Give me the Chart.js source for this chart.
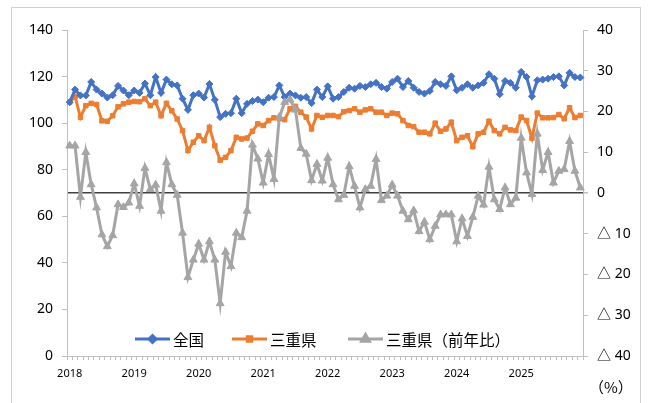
<!DOCTYPE html>
<html lang="ja">
<head>
<meta charset="utf-8">
<script src="https://cdn.jsdelivr.net/npm/chart.js@4.4.1/dist/chart.umd.min.js"></script>
<style>
  html, body { margin: 0; padding: 0; background: #fff; }
  #wrap { width: 648px; height: 403px; }
</style>
</head>
<body>
<div id="wrap"><canvas id="chart" width="648" height="403"></canvas></div>
<script>
// categories: one per month, 2018/1 .. 2025/12
const years = [2018, 2019, 2020, 2021, 2022, 2023, 2024, 2025];
const categories = [];
years.forEach(y => { for (let m = 1; m <= 12; m++) categories.push(y + '/' + m); });

// 全国 (left axis)
const zenkoku = [
  109.0, 114.4, 111.9, 111.9, 117.7, 114.4, 112.7, 111.0, 112.0, 116.0, 114.0, 112.0,
  114.0, 113.0, 117.0, 112.0, 119.8, 113.0, 118.7, 116.7, 116.2, 110.5, 105.7, 112.0,
  112.7, 111.0, 116.8, 110.0, 102.6, 104.0, 104.3, 110.5, 104.3, 108.3, 109.5, 110.1,
  109.0, 110.9, 111.2, 116.2, 111.2, 112.7, 111.9, 110.9, 111.2, 108.6, 114.4, 111.2,
  115.8, 110.5, 111.2, 113.4, 115.2, 114.8, 116.0, 115.5, 116.7, 117.3, 115.5, 114.8,
  117.7, 119.1, 115.5, 118.1, 115.2, 113.4, 112.7, 113.8, 117.7, 116.7, 116.0, 120.1,
  114.1, 115.2, 116.7, 115.2, 116.2, 117.3, 121.0, 119.1, 112.4, 118.1, 117.3, 115.2,
  122.0, 119.8, 111.5, 118.4, 118.7, 119.1, 119.8, 120.1, 116.2, 121.6, 119.8, 119.6
];

// 三重県 (left axis)
const mie = [
  109.0, 111.4, 102.5, 107.5, 108.5, 108.0, 101.0, 100.8, 103.2, 107.0, 108.3, 109.0,
  109.3, 109.2, 110.5, 107.5, 109.0, 103.2, 108.5, 105.3, 101.8, 96.8, 88.2, 91.8,
  94.6, 92.5, 98.2, 90.3, 84.1, 85.3, 88.2, 93.9, 93.2, 93.6, 96.5, 99.7,
  99.0, 101.1, 102.3, 101.9, 101.5, 106.2, 107.2, 104.7, 102.6, 97.5, 103.3, 102.5,
  103.3, 103.3, 102.8, 104.9, 105.4, 106.2, 104.7, 105.7, 106.2, 104.7, 104.7, 103.3,
  104.3, 104.0, 101.1, 99.0, 98.5, 96.1, 96.1, 95.4, 100.0, 96.5, 97.5, 100.4,
  92.5, 93.9, 94.6, 89.9, 95.4, 96.1, 100.8, 96.8, 95.4, 98.2, 97.1, 96.8,
  102.6, 101.1, 93.6, 104.3, 102.3, 102.3, 102.4, 103.7, 101.9, 106.6, 102.4, 103.3
];

// 三重県（前年比） (right axis, %)
const mieYoY = [
  11.6, 11.6, -1.0, 10.0, 2.1, -3.6, -10.2, -13.1, -10.4, -2.8, -3.5, -2.4,
  2.3, -3.2, 6.1, 0.9, 2.0, -4.4, 7.5, 2.1, -0.5, -9.8, -20.7, -16.4,
  -12.5, -16.4, -11.9, -16.4, -27.1, -14.5, -18.0, -9.8, -10.9, -4.4, 11.8, 8.4,
  2.5, 9.5, 3.4, 18.6, 22.3, 22.9, 20.4, 11.0, 9.6, 3.1, 7.1, 3.0,
  8.6, 2.1, -1.6, -0.5, 6.5, 1.7, -3.6, 0.9, 1.7, 8.3, -1.8, -0.7,
  2.0, -0.7, -4.4, -6.5, -4.3, -9.4, -7.1, -11.4, -8.1, -5.3, -5.3, -5.3,
  -11.9, -6.3, -10.6, -5.9, -0.7, -2.9, 6.4, -1.6, -4.0, 1.3, -2.8, -1.2,
  13.5, 5.0, -0.3, 14.5, 5.6, 10.0, 2.5, 5.4, 5.8, 12.7, 5.4, 1.3
];

const leftTicks = { min: 0, max: 140, step: 20 };
const rightTicks = { min: -40, max: 40, step: 10 };

Chart.defaults.font.family = '"Noto Sans", "Noto Sans CJK JP", sans-serif';
Chart.defaults.color = '#000';

const axisGrey = '#BFBFBF';
const cjkFont = '"Noto Sans CJK JP", sans-serif';

// white background + outer frame
const framePlugin = {
  id: 'frame',
  beforeDraw(chart) {
    const c = chart.ctx;
    c.save();
    c.fillStyle = '#fff';
    c.fillRect(0, 0, chart.width, chart.height);
    c.strokeStyle = '#D0D0D0';
    c.lineWidth = 1;
    c.strokeRect(11.5, 7.5, 629, 410);
    c.restore();
  }
};

// legend inside plot + unit label
const legendPlugin = {
  id: 'insideLegend',
  afterDraw(chart) {
    const c = chart.ctx;
    const xs = [135, 232, 348];
    const y = 339;
    c.save();
    chart.data.datasets.forEach((ds, i) => {
      const x0 = xs[i];
      c.strokeStyle = ds.borderColor;
      c.lineWidth = 3;
      c.beginPath();
      c.moveTo(x0, y);
      c.lineTo(x0 + 35, y);
      c.stroke();
      c.fillStyle = ds.backgroundColor;
      c.strokeStyle = ds.borderColor;
      Chart.helpers.drawPoint(c, { pointStyle: ds.pointStyle, radius: ds.pointRadius, rotation: 0, borderWidth: 1 }, x0 + 17.5, y);
      c.fillStyle = '#000';
      c.font = '15.5px ' + cjkFont;
      c.textBaseline = 'middle';
      c.textAlign = 'left';
      c.fillText(ds.label, x0 + 38, y + 1);
    });
    c.font = '15px ' + cjkFont;
    c.textBaseline = 'middle';
    c.fillText('（%）', 589, 387);
    c.restore();
  }
};

const ctx = document.getElementById('chart').getContext('2d');
const chart = new Chart(ctx, {
  type: 'line',
  data: {
    labels: categories,
    datasets: [
      {
        label: '全国',
        data: zenkoku,
        yAxisID: 'y',
        borderColor: '#4472C4',
        backgroundColor: '#4472C4',
        borderWidth: 3,
        pointStyle: 'rectRot',
        pointRadius: 3.5,
        pointBorderWidth: 1,
        order: 1
      },
      {
        label: '三重県',
        data: mie,
        yAxisID: 'y',
        borderColor: '#ED7D31',
        backgroundColor: '#ED7D31',
        borderWidth: 3,
        pointStyle: 'rect',
        pointRadius: 3.2,
        pointBorderWidth: 1,
        order: 2
      },
      {
        label: '三重県（前年比）',
        data: mieYoY,
        yAxisID: 'y1',
        borderColor: '#A5A5A5',
        backgroundColor: '#A5A5A5',
        borderWidth: 3,
        pointStyle: 'triangle',
        pointRadius: 4.5,
        pointBorderWidth: 1,
        order: 0
      }
    ]
  },
  options: {
    responsive: false,
    animation: false,
    layout: { padding: { top: 30, left: 0, right: 0, bottom: 0 } },
    plugins: {
      legend: { display: false },
      tooltip: { enabled: false }
    },
    elements: { line: { tension: 0 } },
    scales: {
      x: {
        type: 'category',
        offset: true,
        grid: { offset: true, drawOnChartArea: false, drawTicks: true, tickLength: 4, color: axisGrey },
        border: { color: axisGrey, width: 1 },
        ticks: {
          autoSkip: false,
          maxRotation: 0,
          minRotation: 0,
          padding: 7,
          font: { size: 11 },
          callback: (v, i) => (i % 12 === 0 ? categories[i].split('/')[0] : '')
        },
        afterFit: s => { s.height = 47; }
      },
      y: {
        position: 'left',
        min: leftTicks.min,
        max: leftTicks.max,
        ticks: { stepSize: leftTicks.step, padding: 9, font: { size: 14 } },
        grid: { drawOnChartArea: false, tickLength: 5, color: axisGrey },
        border: { color: axisGrey },
        afterFit: s => { s.width = 67; }
      },
      y1: {
        position: 'right',
        min: rightTicks.min,
        max: rightTicks.max,
        ticks: {
          stepSize: rightTicks.step,
          padding: 9,
          font: { size: 14 },
          callback: v => (v < 0 ? '△ ' + (-v) : String(v))
        },
        grid: {
          drawOnChartArea: true,
          tickLength: 5,
          tickColor: axisGrey,
          color: c => (c.tick && c.tick.value === 0 ? '#404040' : 'rgba(0,0,0,0)'),
          lineWidth: c => (c.tick && c.tick.value === 0 ? 1.5 : 1)
        },
        border: { color: axisGrey },
        afterFit: s => { s.width = 65; }
      }
    }
  },
  plugins: [framePlugin, legendPlugin]
});
</script>
</body>
</html>
